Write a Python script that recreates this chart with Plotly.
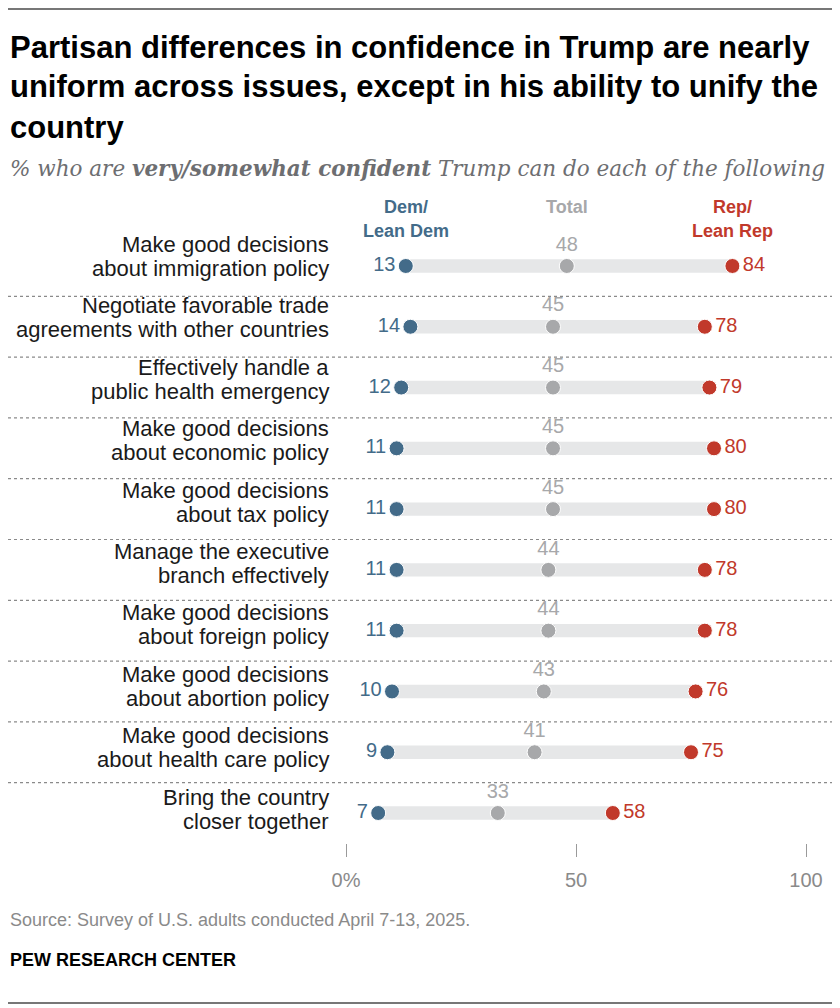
import plotly.graph_objects as go

# data
items = [
    ["Make good decisions", "about immigration policy"],
    ["Negotiate favorable trade", "agreements with other countries"],
    ["Effectively handle a", "public health emergency"],
    ["Make good decisions", "about economic policy"],
    ["Make good decisions", "about tax policy"],
    ["Manage the executive", "branch effectively"],
    ["Make good decisions", "about foreign policy"],
    ["Make good decisions", "about abortion policy"],
    ["Make good decisions", "about health care policy"],
    ["Bring the country", "closer together"],
]
dem = [13, 14, 12, 11, 11, 11, 11, 10, 9, 7]
total = [48, 45, 45, 45, 45, 44, 44, 43, 41, 33]
rep = [84, 78, 79, 80, 80, 78, 78, 76, 75, 58]
tick_vals = [0, 50, 100]
tick_text = ["0%", "50", "100"]

BLUE = "#436b89"
GRAY = "#a7a8aa"
RED = "#c1392b"
BAR = "#e6e7e8"
FONT = "Liberation Sans"

# page body has an 8px margin, so the figure is drawn 8px smaller and
# every position below is given in page pixels and shifted by OFF
OFF = 8
W, H = 840 - OFF, 1008 - OFF
rows = list(range(len(items)))

def fx(px):
    return max(px - OFF, 0) / W

def fy(py):
    return 1 - max(py - OFF, 0) / H

fig = go.Figure()

# light gray band from dem to rep
fig.add_trace(go.Bar(
    y=rows, x=[r - d for r, d in zip(rep, dem)], base=dem,
    orientation="h", width=0.22, marker=dict(color=BAR, line=dict(width=0)),
    hoverinfo="skip",
))

def dots(vals, color, pos):
    fig.add_trace(go.Scatter(
        x=vals, y=rows, mode="markers+text",
        marker=dict(size=15, color=color, line=dict(color="white", width=1)),
        text=[str(v) for v in vals], textposition=pos,
        textfont=dict(family=FONT, size=20, color=color),
        cliponaxis=False, hoverinfo="skip",
    ))

dots(dem, BLUE, "middle left")
dots(total, GRAY, "top center")
dots(rep, RED, "middle right")

ann = []
shapes = []

def text(t, px, py, size, color, family=FONT, xanchor="left"):
    ann.append(dict(text=t, x=fx(px), y=fy(py), xref="paper", yref="paper",
                    xanchor=xanchor, yanchor="middle", showarrow=False,
                    font=dict(family=family, size=size, color=color)))

# title / subtitle
title_lines = [
    "Partisan differences in confidence in Trump are nearly",
    "uniform across issues, except in his ability to unify the",
    "country",
]
for i, t in enumerate(title_lines):
    text("<b>" + t + "</b>", 8, 47 + 40 * i, 31, "#000")
text("<i>% who are <b>very/somewhat confident</b> Trump can do each of the following</i>",
     8, 168, 21.5, "#6d6e71", family="DejaVu Serif")

# column headers
for lines, xv, col in [(["Dem/", "Lean Dem"], dem[0], BLUE),
                       (["Total"], total[0], GRAY),
                       (["Rep/", "Lean Rep"], rep[0], RED)]:
    for j, ln in enumerate(lines):
        ann.append(dict(text="<b>" + ln + "</b>", x=xv, y=fy(207 + 24 * j),
                        xref="x", yref="paper", xanchor="center", yanchor="middle",
                        showarrow=False, font=dict(family=FONT, size=18, color=col)))

# row labels, two lines each
for i, (l1, l2) in enumerate(items):
    yc = 256.5 + 61.4 * i
    text(l1, 331, yc - 12, 22, "#1a1a1a", xanchor="right")
    text(l2, 331, yc + 12, 22, "#1a1a1a", xanchor="right")

# dotted separators
for i in rows[:-1]:
    shapes.append(dict(type="line", xref="paper", yref="y", x0=fx(8), x1=fx(836),
                       y0=i + 0.5, y1=i + 0.5, line=dict(color="#8a8a8a", width=1.2, dash="dot")))

# frame lines top and bottom
shapes.append(dict(type="line", xref="paper", yref="paper", x0=0, x1=1, y0=1 - 1 / H, y1=1 - 1 / H,
                   line=dict(color="#777", width=2)))
shapes.append(dict(type="line", xref="paper", yref="paper", x0=0, x1=1, y0=fy(1003), y1=fy(1003),
                   line=dict(color="#777", width=2)))

# footer
text("Source: Survey of U.S. adults conducted April 7-13, 2025.", 8, 920, 18, "#8a8a8a")
text("<b>PEW RESEARCH CENTER</b>", 8, 960, 18, "#000")

fig.update_layout(
    width=W, height=H, margin=dict(l=0, r=0, t=0, b=0, autoexpand=False),
    paper_bgcolor="white", plot_bgcolor="white", showlegend=False,
    annotations=ann, shapes=shapes,
    xaxis=dict(domain=[fx(346), fx(806)], range=[0, 100], showgrid=False, zeroline=False,
               showline=False, tickvals=tick_vals, ticktext=tick_text, ticks="outside",
               ticklen=13, tickwidth=1, tickcolor="#9a9a9a", ticklabelstandoff=6,
               automargin=False,
               tickfont=dict(family=FONT, size=20, color="#8a8a8a"), fixedrange=True),
    yaxis=dict(domain=[fy(843.4), fy(235.6)], range=[9.5, -0.5], showgrid=False,
               zeroline=False, showticklabels=False, automargin=False, fixedrange=True),
)

fig.write_html("out.html")
